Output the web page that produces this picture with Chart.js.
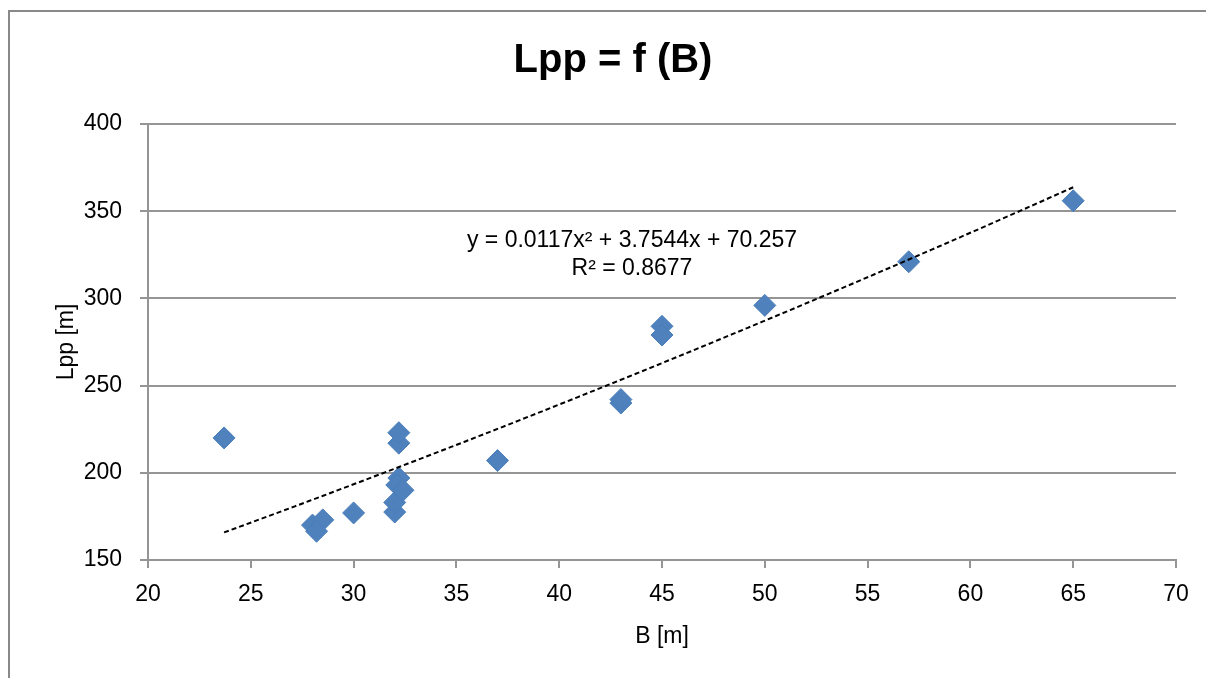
<!DOCTYPE html>
<html>
<head>
<meta charset="utf-8">
<script src="https://cdn.jsdelivr.net/npm/chart.js@4/dist/chart.umd.min.js"></script>
<style>
  html, body { margin: 0; padding: 0; background: #fff; overflow: hidden; }
  #frame {
    position: absolute; left: 8px; top: 10px;
    width: 1209px; height: 690px;
    border: 2px solid #898989;
    border-right: none;
  }
</style>
</head>
<body>
<div id="frame"><canvas id="lppChart"></canvas></div>
<script>
// Ship data: breadth B [m] vs length Lpp [m]
const bValues   = [23.7, 28.0, 28.5, 28.2, 30.0, 32.0, 32.0, 32.2, 32.1, 32.4, 32.2, 32.2, 37.0, 43.0, 43.0, 45.0, 45.0, 50.0, 57.0, 65.0];
const lppValues = [220, 170, 173, 166.5, 177, 177.5, 183, 197, 193, 190, 217, 223, 207, 240, 242, 284, 279, 296, 321, 356];

// Polynomial trendline as printed on the chart: y = c2*x^2 + c1*x + c0
const trendCoef = [70.257, 3.7544, 0.0117];
const trendRange = [23.7, 65];

const xTicks = [20, 25, 30, 35, 40, 45, 50, 55, 60, 65, 70];
const yTicks = [150, 200, 250, 300, 350, 400];

const FONT = "'Liberation Sans', Arial, sans-serif";
const GRID = '#959595';

const scatterPts = bValues.map((b, i) => ({ x: b, y: lppValues[i] }));

const trendPts = [];
for (let i = 0; i <= 60; i++) {
    const x = trendRange[0] + (trendRange[1] - trendRange[0]) * i / 60;
    trendPts.push({ x: x, y: trendCoef[0] + trendCoef[1] * x + trendCoef[2] * x * x });
}

// Equation label, like Excel's trendline label
const eqLabel = {
    id: 'eqLabel',
    afterDatasetsDraw(chart) {
        const ctx = chart.ctx;
        const a = chart.chartArea;
        ctx.save();
        ctx.font = '23px ' + FONT;
        ctx.fillStyle = '#000';
        ctx.textAlign = 'center';
        ctx.textBaseline = 'alphabetic';
        const cx = a.left + 484;
        ctx.fillText('y = 0.0117x² + 3.7544x + 70.257', cx, a.top + 123);
        ctx.fillText('R² = 0.8677', cx, a.top + 151);
        ctx.restore();
    }
};

const ctx = document.getElementById('lppChart').getContext('2d');

new Chart(ctx, {
    type: 'scatter',
    data: {
        datasets: [{
            label: 'Trend',
            type: 'line',
            data: trendPts,
            borderColor: '#000',
            borderWidth: 2,
            borderDash: [5, 3],
            pointRadius: 0,
            fill: false,
            tension: 0,
            order: 0
        }, {
            label: 'Lpp',
            data: scatterPts,
            pointStyle: 'rectRot',
            pointRadius: 11,
            pointHoverRadius: 11,
            backgroundColor: '#4F81BD',
            borderColor: '#4A7EBB',
            borderWidth: 1,
            order: 1
        }]
    },
    options: {
        responsive: true,
        maintainAspectRatio: false,
        animation: false,
        layout: { padding: { left: 40, right: 43, top: 0, bottom: 0 } },
        plugins: {
            legend: { display: false },
            tooltip: { enabled: false },
            title: {
                display: true,
                text: 'Lpp = f (B)',
                color: '#000',
                font: { family: FONT, size: 40, weight: 'bold', lineHeight: 1.2 },
                padding: { top: 25, bottom: 39 }
            }
        },
        scales: {
            x: {
                type: 'linear',
                min: 20,
                max: 70,
                afterBuildTicks: s => { s.ticks = xTicks.map(v => ({ value: v })); },
                afterFit: s => { s.height = 142; },
                grid: { drawOnChartArea: false, color: GRID, lineWidth: 2, tickLength: 8 },
                border: { color: GRID, width: 2 },
                ticks: { color: '#000', font: { family: FONT, size: 23 }, padding: 13, maxRotation: 0 },
                title: {
                    display: true,
                    text: 'B [m]',
                    color: '#000',
                    font: { family: FONT, size: 23 },
                    padding: { top: 0, bottom: 52 }
                }
            },
            y: {
                type: 'linear',
                min: 150,
                max: 400,
                afterBuildTicks: s => { s.ticks = yTicks.map(v => ({ value: v })); },
                afterFit: s => { s.width = 98; },
                grid: { color: GRID, lineWidth: 2, tickLength: 8 },
                border: { color: GRID, width: 2 },
                ticks: { color: '#000', font: { family: FONT, size: 23 }, padding: 18 },
                title: {
                    display: true,
                    text: 'Lpp [m]',
                    color: '#000',
                    font: { family: FONT, size: 23 },
                    padding: { top: 3, bottom: 0 }
                }
            }
        }
    },
    plugins: [eqLabel]
});
</script>
</body>
</html>
